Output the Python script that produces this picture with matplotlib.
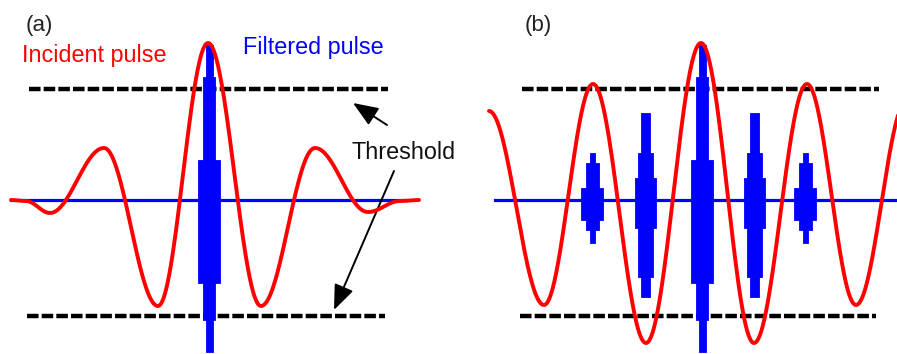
import numpy as np
import matplotlib
matplotlib.use("Agg")
import matplotlib.pyplot as plt

plt.rcParams['font.family'] = ['Liberation Sans', 'DejaVu Sans']

# ---- data (pixel coordinates, y grows downward) ----
# Incident pulse: extrema (x, y) of red curve
red_a_x = [11, 26, 50, 104, 158, 208, 261, 315, 368, 400, 419]
red_a_y = [200, 201, 213, 148, 306, 43, 306, 148, 212, 201, 200]
red_b_x = [489, 544, 593, 646, 701, 754, 807, 856, 907]
red_b_y = [111, 305, 84, 343, 43, 343, 84, 305, 100]

# Filtered pulse baseline extents
blue_a_span = [11, 405]
blue_b_span = [495, 897]
baseline_y = 200

# Filtered pulse bursts: centre x, and layers (width, top y, bottom y)
burst_a_centers = [209]
burst_a_layers = [[(7, 45, 352), (12, 77, 320), (22, 160, 283)]]
burst_b_centers = [592, 645, 702, 754, 805]
burst_b_layers = [
    [(5, 153, 243), (13, 163, 230), (22, 188, 220)],
    [(9, 113, 297), (15, 153, 277), (21, 178, 228)],
    [(7, 45, 352), (12, 77, 320), (22, 160, 283)],
    [(9, 113, 297), (15, 153, 277), (21, 178, 228)],
    [(5, 153, 243), (13, 163, 230), (22, 188, 220)],
]

# Threshold dashed lines: (x_start, x_end, y)
thresh_a = [(29, 388, 89), (27, 385, 316)]
thresh_b = [(522, 879, 89), (520, 876, 316)]

RED = '#ff0000'
BLUE = '#0000ff'


def smooth_path(xs, ys, n=80):
    px, py = [], []
    for i in range(len(xs) - 1):
        t = np.linspace(0, 1, n)
        w = (1 - np.cos(np.pi * t)) / 2
        px.append(xs[i] + (xs[i + 1] - xs[i]) * t)
        py.append(ys[i] + (ys[i + 1] - ys[i]) * w)
    return np.concatenate(px), np.concatenate(py)


fig = plt.figure(figsize=(8.97, 3.54), dpi=100)
ax = fig.add_axes([0, 0, 1, 1])
ax.set_xlim(0, 897)
ax.set_ylim(354, 0)
ax.axis('off')

# dashed thresholds
for x0, x1, y in thresh_a + thresh_b:
    ax.plot([x0, x1], [y, y], color='black', lw=3.2,
            linestyle=(0, (2.6, 0.7)), zorder=1)

# blue baselines
for span in (blue_a_span, blue_b_span):
    ax.plot(span, [baseline_y, baseline_y], color=BLUE, lw=2.3, zorder=2)

# blue bursts
for centers, layers in ((burst_a_centers, burst_a_layers),
                        (burst_b_centers, burst_b_layers)):
    for cx, lay in zip(centers, layers):
        for w, top, bot in lay:
            ax.bar(cx, bot - top, width=w, bottom=top, color=BLUE,
                   edgecolor=BLUE, linewidth=0.6, zorder=3)

# red curves
for xs, ys in ((red_a_x, red_a_y), (red_b_x, red_b_y)):
    px, py = smooth_path(xs, ys)
    ax.plot(px, py, color=RED, lw=2.8, zorder=4, solid_capstyle='round')

# texts
ax.text(26, 31, '(a)', fontsize=16, color='#222222', ha='left', va='baseline')
ax.text(525, 31, '(b)', fontsize=16, color='#222222', ha='left', va='baseline')
ax.text(22, 62, 'Incident pulse', fontsize=16.8, color=RED, ha='left', va='baseline')
ax.text(243, 54, 'Filtered pulse', fontsize=16.8, color=BLUE, ha='left', va='baseline')
ax.text(352, 159, 'Threshold', fontsize=16.8, color='#111111', ha='left', va='baseline')

# arrows
arrow_style = dict(arrowstyle='-|>,head_length=0.7,head_width=0.28',
                   color='black', lw=1.4, mutation_scale=22,
                   shrinkA=0, shrinkB=0)
ax.annotate('', xy=(353, 103), xytext=(387, 125), arrowprops=arrow_style)
ax.annotate('', xy=(334, 310), xytext=(394, 171), arrowprops=arrow_style)

fig.savefig('out.png', dpi=100)
